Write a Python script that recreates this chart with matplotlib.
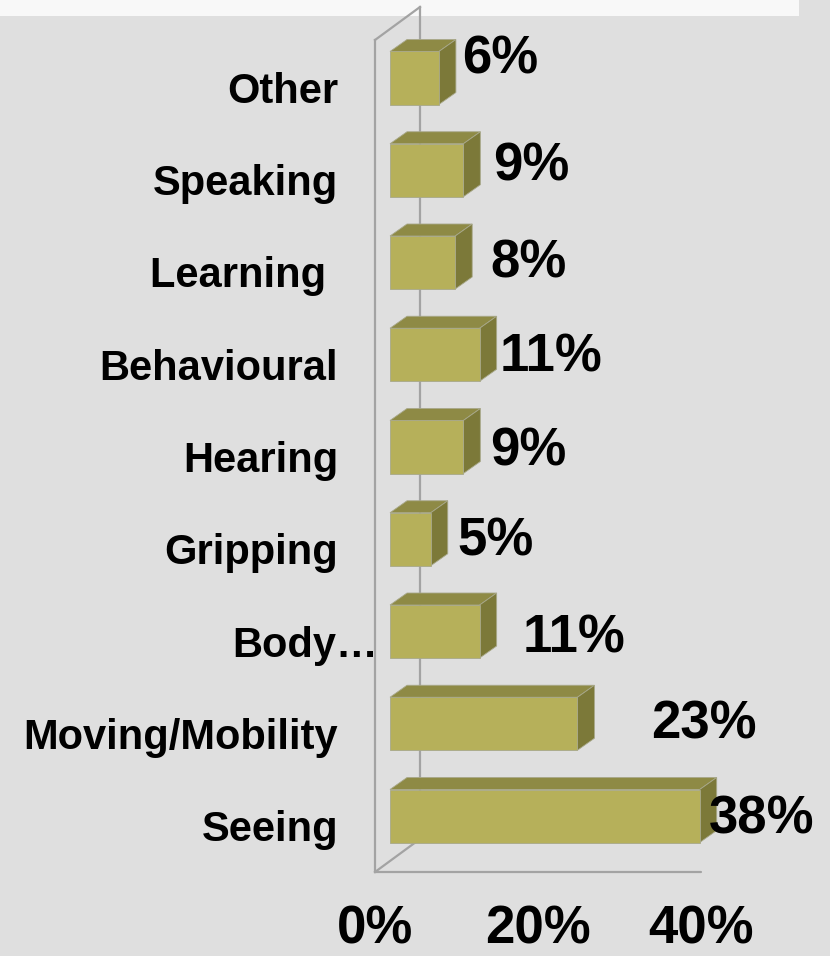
import matplotlib.pyplot as plt
from matplotlib.patches import Rectangle, Polygon

categories = ["Seeing", "Moving/Mobility", "Body\u2026", "Gripping", "Hearing",
              "Behavioural", "Learning ", "Speaking", "Other"]
values = [38, 23, 11, 5, 9, 11, 8, 9, 6]
tick_values = [0, 20, 40]
tick_labels = ["0%", "20%", "40%"]

# layout (pixels at 100 dpi)
PX_PCT = 8.15      # pixels per percent
PX_ROW = 92.25     # pixels per category row
value_dx_px = [-8, 57, 26, 10, 10, 3, 18, 13, 6]      # label gap after bar
value_dy_px = [17, 15, 21, 16, 18, 17, 15, 10, -4]    # baseline below bar centre
cat_dx_px = [0, 0, 40, 0, 0, 0, 0, 0, 0]

FRONT = "#b6b05a"
TOP = "#8e8a45"
SIDE = "#7c7939"
WALL = "#a3a3a3"
BG = "#dfdfdf"

bar_h = 53 / PX_ROW
bar_dx = 17 / PX_PCT
bar_dy = 12 / PX_ROW
wall_x = -15 / PX_PCT
wall_dx = 45 / PX_PCT
wall_dy = 33 / PX_ROW
floor_y = -56 / PX_ROW
wall_top = 776 / PX_ROW


def main():
    fig = plt.figure(figsize=(8.3, 9.56), dpi=100, facecolor=BG)
    fig.patches.append(Rectangle((0, 1 - 16 / 956), 799 / 830, 16 / 956,
                                 transform=fig.transFigure, facecolor="#f8f8f8",
                                 edgecolor="none", zorder=-1))
    ax = fig.add_axes([0, 0, 1, 1])
    ax.set_xlim(-390 / PX_PCT, 440 / PX_PCT)
    ax.set_ylim(-140 / PX_ROW, 816 / PX_ROW)
    ax.axis("off")
    ax.patch.set_alpha(0)

    lw = 1.6
    # walls
    ax.plot([wall_x, wall_x], [floor_y, wall_top], color=WALL, lw=lw, zorder=1)
    ax.plot([wall_x, wall_x + wall_dx], [wall_top, wall_top + wall_dy],
            color=WALL, lw=lw, zorder=1)
    ax.plot([wall_x + wall_dx] * 2, [floor_y + wall_dy, wall_top + wall_dy],
            color=WALL, lw=lw, zorder=1)
    ax.plot([wall_x, wall_x + wall_dx], [floor_y, floor_y + wall_dy],
            color=WALL, lw=lw, zorder=1)
    ax.plot([wall_x, wall_x + tick_values[-1]], [floor_y, floor_y],
            color=WALL, lw=lw, zorder=1, solid_capstyle="round")

    font = dict(family=["Liberation Sans", "DejaVu Sans"], weight="bold", color="black")

    for i, (cat, v) in enumerate(zip(categories, values)):
        y0 = i - bar_h / 2
        y1 = i + bar_h / 2
        ax.add_patch(Polygon([(0, y1), (v, y1), (v + bar_dx, y1 + bar_dy),
                              (bar_dx, y1 + bar_dy)], closed=True,
                             facecolor=TOP, edgecolor="#a8a88a", lw=0.6, zorder=3))
        ax.add_patch(Polygon([(v, y0), (v + bar_dx, y0 + bar_dy),
                              (v + bar_dx, y1 + bar_dy), (v, y1)], closed=True,
                             facecolor=SIDE, edgecolor="#a8a88a", lw=0.6, zorder=3))
        ax.add_patch(Rectangle((0, y0), v, bar_h, facecolor=FRONT,
                               edgecolor="#a8a88a", lw=0.6, zorder=4))

        ax.text(v + bar_dx + value_dx_px[i] / PX_PCT, i - value_dy_px[i] / PX_ROW,
                f"{v}%", ha="left", va="baseline", fontsize=38, zorder=5, **font)
        ax.text(-52 / PX_PCT + cat_dx_px[i] / PX_PCT, i - 25 / PX_ROW, cat,
                ha="right", va="baseline", fontsize=30, zorder=5, **font)

    for t, lab in zip(tick_values, tick_labels):
        ax.text(t + wall_x, -127 / PX_ROW, lab, ha="center", va="baseline",
                fontsize=38, zorder=5, **font)

    plt.savefig("out.png", dpi=100, facecolor=BG)
    plt.close()


if __name__ == "__main__":
    main()
